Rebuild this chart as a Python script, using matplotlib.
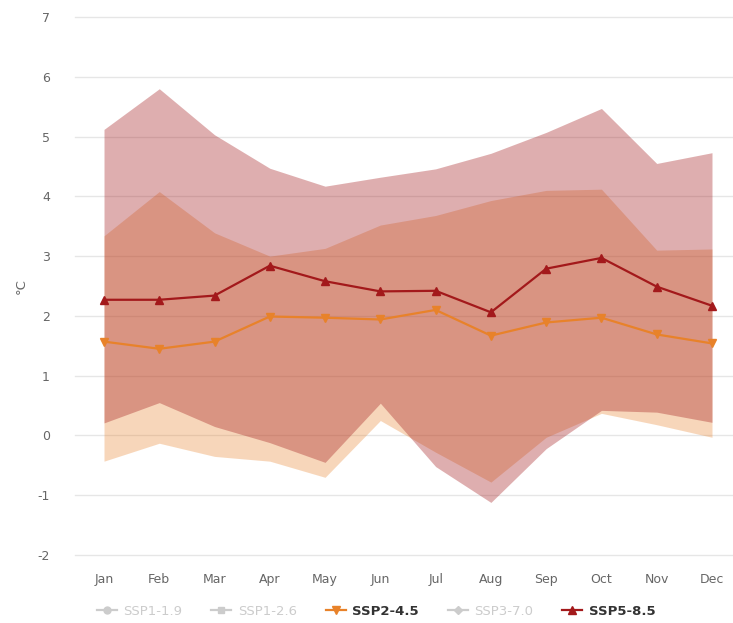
import matplotlib.pyplot as plt
from matplotlib.lines import Line2D

months = ["Jan", "Feb", "Mar", "Apr", "May", "Jun",
          "Jul", "Aug", "Sep", "Oct", "Nov", "Dec"]

# SSP2-4.5: median and 10-90 % range
ssp245_median = [1.57, 1.45, 1.57, 1.99, 1.97, 1.94, 2.10, 1.67, 1.89, 1.97, 1.69, 1.54]
ssp245_low = [-0.43, -0.13, -0.35, -0.43, -0.70, 0.25, -0.28, -0.78, -0.03, 0.37, 0.18, -0.03]
ssp245_high = [3.34, 4.08, 3.39, 3.00, 3.13, 3.52, 3.68, 3.93, 4.10, 4.12, 3.10, 3.12]

# SSP5-8.5: median and 10-90 % range
ssp585_median = [2.27, 2.27, 2.34, 2.84, 2.58, 2.41, 2.42, 2.06, 2.79, 2.97, 2.49, 2.17]
ssp585_low = [0.21, 0.55, 0.15, -0.12, -0.45, 0.54, -0.52, -1.12, -0.22, 0.42, 0.39, 0.22]
ssp585_high = [5.12, 5.80, 5.03, 4.47, 4.17, 4.32, 4.46, 4.72, 5.07, 5.47, 4.55, 4.73]

legend_labels = ["SSP1-1.9", "SSP1-2.6", "SSP2-4.5", "SSP3-7.0", "SSP5-8.5"]
yticks = list(range(-2, 8))

ORANGE = "#e8822a"
DARKRED = "#a3191b"
GREY_TXT = "#666666"
HIDDEN = "#cccccc"

plt.rcParams["font.family"] = ["DejaVu Sans"]
plt.rcParams["axes.unicode_minus"] = False

fig = plt.figure(figsize=(7.33, 6.23), dpi=100)
ax = fig.add_axes([0.1023, 0.1091, 0.8977, 0.8636])

x = list(range(len(months)))
ax.fill_between(x, ssp245_low, ssp245_high, color=ORANGE, alpha=0.32, lw=0, zorder=2)
ax.fill_between(x, ssp585_low, ssp585_high, color=DARKRED, alpha=0.35, lw=0, zorder=3)

ax.plot(x, ssp245_median, color=ORANGE, lw=1.6, marker="v", ms=6, zorder=5)
ax.plot(x, ssp585_median, color=DARKRED, lw=1.6, marker="^", ms=6, zorder=6)

ax.set_xlim(-0.525, 11.38)
ax.set_ylim(-2, 7)
ax.set_xticks(x)
ax.set_xticklabels(months)
ax.set_yticks(yticks)
ax.tick_params(length=0, labelsize=9, labelcolor=GREY_TXT)
ax.tick_params(axis="x", pad=13)
ax.tick_params(axis="y", pad=18)
ax.grid(axis="y", color="#e6e6e6", lw=1, zorder=0)
for gl in ax.yaxis.get_gridlines():
    gl.set_clip_on(False)
ax.set_axisbelow(True)
for s in ax.spines.values():
    s.set_visible(False)
ax.set_ylabel("°C", color=GREY_TXT, fontsize=9.5, labelpad=7)

handles = [
    Line2D([], [], color=HIDDEN, lw=1.6, marker="o", ms=5),
    Line2D([], [], color=HIDDEN, lw=1.6, marker="s", ms=4.5),
    Line2D([], [], color=ORANGE, lw=1.6, marker="v", ms=6),
    Line2D([], [], color=HIDDEN, lw=1.6, marker="D", ms=4),
    Line2D([], [], color=DARKRED, lw=1.6, marker="^", ms=6),
]
leg = fig.legend(handles, legend_labels, loc="center", ncol=5,
                 bbox_to_anchor=(0.513, 0.019), frameon=False,
                 fontsize=9.5, handlelength=1.5, handletextpad=0.5,
                 columnspacing=2.2)
for t, vis in zip(leg.get_texts(), [False, False, True, False, True]):
    t.set_color("#333333" if vis else HIDDEN)
    if vis:
        t.set_fontweight("bold")

fig.savefig("out.png", dpi=100)
